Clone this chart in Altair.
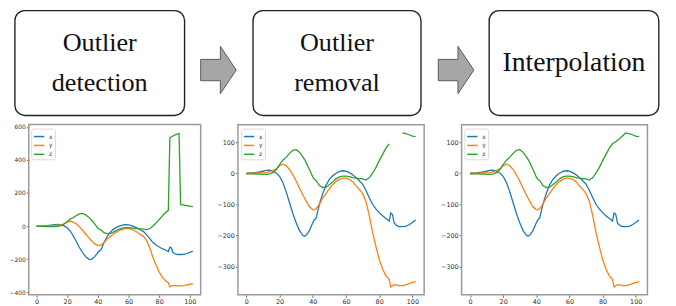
import altair as alt
import pandas as pd

# ---------------- data ----------------
t = [0, 4, 8, 12, 14, 16, 18, 20, 22, 24, 26, 28, 30, 32, 34, 35, 36, 38, 40, 41, 42,
     44, 46, 48, 50, 52, 54, 56, 58, 60, 62, 64, 66, 68, 70, 72, 74, 76, 78, 80, 82, 84, 86,
     87, 88, 89, 90, 91, 92, 93, 94, 96, 98, 100, 102]

x_vals = [0, 1, 4, 9, 10, 7, 1, -10, -30, -60, -95, -130, -160, -185, -200,
          -203, -200, -185, -160, -150, -145,
          -100, -65, -38, -20, -8, 0, 6, 8, 7, 2, -5, -14, -24, -35, -55, -78, -100, -115, -127, -137, -145, -154,
          -128, -133, -160, -166, -170, -172, -172, -172,
          -171, -166, -159, -151]

y_vals = [0, 0, 1, 2, 5, 9, 14, 24, 29, 24, 12, -5, -25, -48, -70,
          -80, -90, -108, -117, -118, -114,
          -100, -80, -65, -50, -37, -27, -20, -16, -16, -20, -27, -40, -52, -65, -90, -135, -190, -235, -277, -308, -330, -342,
          -367, -362, -360, -360, -361, -362, -362, -362,
          -360, -356, -352, -350]

z_head = [-2, -2, -3, -4, -2, 2, 12, 28, 42, 52, 64, 74, 76, 68, 53,
          45, 35, 12, -12, -20, -23,
          -40, -46, -45, -37, -28, -18, -12, -9, -9, -11, -14, -16, -17, -18, -22, -15, 0, 18, 40, 60, 80, 95]
z_outliers = [535, 540, 545, 550, 553, 557, 560]      # t = 87..93
z_interpolated = [99, 102, 106, 110, 115, 120, 125]   # t = 87..93
z_tail = [130, 128, 124, 120, 118]                    # t = 94..102

series = ["x", "y", "z"]
colors = ["#1f77b4", "#ff7f0e", "#2ca02c"]
stage_lines = [["Outlier", "detection"], ["Outlier", "removal"], ["Interpolation"]]
x_ticks = [0, 20, 40, 60, 80, 100]
y_ticks_raw = [-400, -200, 0, 200, 400, 600]
y_ticks_clean = [-300, -200, -100, 0, 100]

z_raw = z_head + z_outliers + z_tail
z_gap = z_head + [None] * len(z_outliers) + z_tail
z_fill = z_head + z_interpolated + z_tail


def long_df(zs, gap):
    rows = []
    for i, tt in enumerate(t):
        rows.append(dict(t=tt, value=x_vals[i], series="x", seg="x"))
        rows.append(dict(t=tt, value=y_vals[i], series="y", seg="y"))
        if zs[i] is not None:
            seg = ("z1" if tt <= 86 else "z2") if gap else "z"
            rows.append(dict(t=tt, value=zs[i], series="z", seg=seg))
    return pd.DataFrame(rows)


df1 = long_df(z_raw, False)
df2 = long_df(z_gap, True)
df3 = long_df(z_fill, False)
one = pd.DataFrame({"k": [0]})

W, H = 668, 298


def axis_style(fs):
    return dict(domain=False, grid=False, tickSize=2.5, tickWidth=0.8, tickColor="#444",
                labelFontSize=fs, labelFont="DejaVu Sans", labelColor="#333",
                labelPadding=1, labelFlush=False, labelOverlap=False, title=None)


def panel(df, xr, yd, yr, yticks, lx, ly, yfs):
    frame = alt.Chart(one).mark_rect(fillOpacity=0, stroke="#9a9a9a", strokeWidth=1.5).encode(
        x=alt.value(xr[0]), x2=alt.value(xr[1]), y=alt.value(yr[1]), y2=alt.value(yr[0]))
    lines = alt.Chart(df).mark_line(strokeWidth=1.3).encode(
        x=alt.X("t:Q", scale=alt.Scale(domain=[-5.1, 107.1], range=xr, nice=False, zero=False),
                axis=alt.Axis(orient="bottom", offset=-(H - yr[0]), values=x_ticks, **axis_style(6.5))),
        y=alt.Y("value:Q", scale=alt.Scale(domain=yd, range=yr, nice=False, zero=False),
                axis=alt.Axis(orient="left", offset=-xr[0], values=yticks, **axis_style(yfs))),
        color=alt.Color("series:N", scale=alt.Scale(domain=series, range=colors),
                        legend=alt.Legend(orient="none", legendX=lx, legendY=ly, title=None,
                                          symbolType="stroke", symbolSize=110, symbolStrokeWidth=1.5,
                                          labelFontSize=6, labelFont="DejaVu Sans", labelColor="#333",
                                          strokeColor="#d9d9d9", fillColor="white", padding=2,
                                          cornerRadius=2, rowPadding=0, labelOffset=4)),
        detail="seg:N")
    return alt.layer(frame, lines)


p1 = panel(df1, [21.0, 195.0], [-416, 615], [288.5, 116.0], y_ticks_raw, 23.5, 120.3, 6)
p2 = panel(df2, [232.7, 421.2], [-392, 156.5], [288.5, 116.3], y_ticks_clean, 236.0, 120.3, 6.5)
p3 = panel(df3, [459.1, 647.2], [-392, 156.5], [288.5, 116.3], y_ticks_clean, 462.0, 120.3, 6.5)

# ---------------- flow boxes and arrows ----------------
decor = []
boxes = [(7.0, 178.7), (248.0, 418.0), (487.0, 658.7)]
font_sizes = [26.5, 26.5, 28]
baselines = [[42, 82.7], [42, 82.7], [62]]
for (bx0, bx1), lines_, fs, bls in zip(boxes, stage_lines, font_sizes, baselines):
    decor.append(alt.Chart(one).mark_rect(cornerRadius=10, fill="white", stroke="#222",
                                          strokeWidth=1.4).encode(
        x=alt.value(bx0), x2=alt.value(bx1), y=alt.value(0.8), y2=alt.value(107)))
    for txt, bl in zip(lines_, bls):
        decor.append(alt.Chart(one).mark_text(font="Liberation Serif", fontSize=fs, color="#111",
                                              align="center", baseline="alphabetic").encode(
            x=alt.value((bx0 + bx1) / 2), y=alt.value(bl), text=alt.value(txt)))

arrow_path = "M-0.75,-0.45 L0.08,-0.45 L0.08,-1 L0.75,0 L0.08,1 L0.08,0.45 L-0.75,0.45 Z"
for ax in [213, 453.5]:
    decor.append(alt.Chart(one).mark_point(shape=arrow_path, size=2304, filled=True,
                                           fill="#a6a6a6", stroke="#5a5a5a", strokeWidth=1,
                                           opacity=1, fillOpacity=1).encode(
        x=alt.value(ax), y=alt.value(61)))

chart = alt.layer(*decor, p1, p2, p3).resolve_scale(
    x="independent", y="independent", color="independent"
).properties(
    width=W, height=H, autosize=alt.AutoSizeParams(type="none"), padding=0
).configure_view(strokeWidth=0)

chart.save("out.html", embed_options={"renderer": "svg", "actions": False})
